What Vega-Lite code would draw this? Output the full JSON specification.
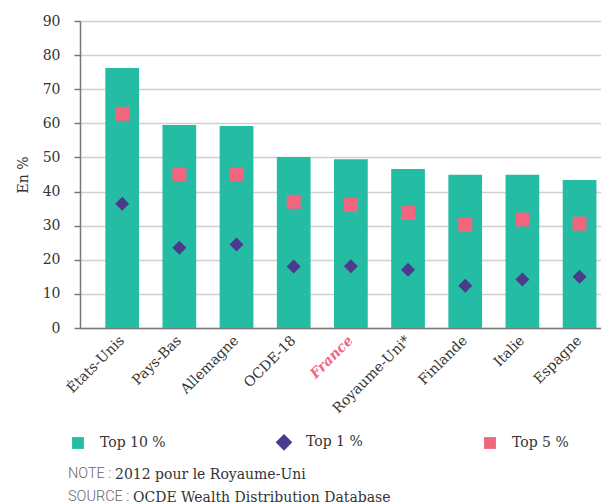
{
  "$schema": "https://vega.github.io/schema/vega-lite/v6.json",
  "padding": {"left": 16, "top": 14, "right": 0, "bottom": 0},
  "background": "white",
  "config": {
    "view": {"stroke": null},
    "font": "DejaVu Serif",
    "title": {"orient": "bottom", "anchor": "start", "frame": "group", "fontWeight": "normal"}
  },
  "resolve": {"legend": {"color": "independent", "shape": "independent"}},
  "title": {"text": "OCDE Wealth Distribution Database", "font": "DejaVu Serif", "fontSize": 14, "color": "#333333", "dx": 53, "dy": -17},
  "vconcat": [{
    "resolve": {"legend": {"color": "independent", "shape": "independent"}},
    "title": {"text": "2012 pour le Royaume-Uni", "font": "DejaVu Serif", "fontSize": 14, "color": "#333333", "dx": 35, "dy": -40},
    "vconcat": [{
      "title": {"text": ["NOTE :", "SOURCE :"], "font": "Roboto", "fontWeight": 300, "fontSize": 14.5, "color": "#666666", "lineHeight": 23, "dx": -12, "offset": 16},
      "width": 522,
      "height": 307,
      "data": {"values": [
        {"pays": "États-Unis", "serie": "Top 10 %", "valeur": 76.2},
        {"pays": "Pays-Bas", "serie": "Top 10 %", "valeur": 59.5},
        {"pays": "Allemagne", "serie": "Top 10 %", "valeur": 59.2},
        {"pays": "OCDE-18", "serie": "Top 10 %", "valeur": 50.1},
        {"pays": "France", "serie": "Top 10 %", "valeur": 49.5},
        {"pays": "Royaume-Uni*", "serie": "Top 10 %", "valeur": 46.6},
        {"pays": "Finlande", "serie": "Top 10 %", "valeur": 44.9},
        {"pays": "Italie", "serie": "Top 10 %", "valeur": 44.9},
        {"pays": "Espagne", "serie": "Top 10 %", "valeur": 43.4},
        {"pays": "États-Unis", "serie": "Top 1 %", "valeur": 36.4},
        {"pays": "Pays-Bas", "serie": "Top 1 %", "valeur": 23.5},
        {"pays": "Allemagne", "serie": "Top 1 %", "valeur": 24.5},
        {"pays": "OCDE-18", "serie": "Top 1 %", "valeur": 18.0},
        {"pays": "France", "serie": "Top 1 %", "valeur": 18.1},
        {"pays": "Royaume-Uni*", "serie": "Top 1 %", "valeur": 17.1},
        {"pays": "Finlande", "serie": "Top 1 %", "valeur": 12.4},
        {"pays": "Italie", "serie": "Top 1 %", "valeur": 14.2},
        {"pays": "Espagne", "serie": "Top 1 %", "valeur": 15.0},
        {"pays": "États-Unis", "serie": "Top 5 %", "valeur": 62.8},
        {"pays": "Pays-Bas", "serie": "Top 5 %", "valeur": 45.1},
        {"pays": "Allemagne", "serie": "Top 5 %", "valeur": 45.1},
        {"pays": "OCDE-18", "serie": "Top 5 %", "valeur": 37.0},
        {"pays": "France", "serie": "Top 5 %", "valeur": 36.1},
        {"pays": "Royaume-Uni*", "serie": "Top 5 %", "valeur": 33.7},
        {"pays": "Finlande", "serie": "Top 5 %", "valeur": 30.2},
        {"pays": "Italie", "serie": "Top 5 %", "valeur": 31.8},
        {"pays": "Espagne", "serie": "Top 5 %", "valeur": 30.6}
      ]},
      "encoding": {
        "x": {
          "field": "pays", "type": "nominal", "sort": null,
          "scale": {"paddingInner": 0.41, "paddingOuter": 0.27, "align": 0.82},
          "axis": {
            "title": null, "labelAngle": -45, "labelAlign": "right", "labelBaseline": "middle",
            "labelFont": "DejaVu Serif", "labelFontSize": 14, "labelPadding": 10,
            "labelColor": {"condition": {"test": "datum.value == 'France'", "value": "#F0667F"}, "value": "#333333"},
            "labelFontStyle": {"condition": {"test": "datum.value == 'France'", "value": "italic"}, "value": "normal"},
            "labelFontWeight": {"condition": {"test": "datum.value == 'France'", "value": "bold"}, "value": "normal"},
            "ticks": false, "domainColor": "#777777", "domainWidth": 1.5, "grid": false
          }
        },
        "y": {
          "field": "valeur", "type": "quantitative",
          "scale": {"domain": [0, 90], "nice": false},
          "axis": {
            "title": "En %", "titleFont": "DejaVu Serif", "titleFontSize": 14, "titleFontWeight": "normal", "titleColor": "#333333", "titlePadding": 12,
            "values": [0, 10, 20, 30, 40, 50, 60, 70, 80, 90],
            "labelFont": "DejaVu Serif", "labelFontSize": 14, "labelColor": "#333333", "labelPadding": 14,
            "domainColor": "#777777", "domainWidth": 1.5, "tickColor": "#777777", "tickSize": 6, "tickWidth": 1.5,
            "gridColor": "#d0d0d0", "gridWidth": 1.5
          }
        },
        "color": {
          "field": "serie", "type": "nominal",
          "scale": {"domain": ["Top 10 %", "Top 1 %", "Top 5 %"], "range": ["#25BCA4", "#4B3A8E", "#F0667F"]},
          "legend": {
            "title": null, "orient": "none", "legendX": -9, "legendY": 414, "direction": "horizontal",
            "columns": 3, "gridAlign": "all",
            "labelFont": "DejaVu Serif", "labelFontSize": 14, "labelColor": "#333333",
            "symbolSize": 140, "labelOffset": 15, "columnPadding": 109, "padding": 0
          }
        }
      },
      "layer": [
        {
          "transform": [{"filter": "datum.serie == 'Top 10 %'"}],
          "mark": {"type": "bar"}
        },
        {
          "transform": [{"filter": "datum.serie == 'Top 5 %'"}],
          "mark": {"type": "point", "filled": true, "opacity": 1, "size": 196},
          "encoding": {
            "shape": {
              "field": "serie", "type": "nominal",
              "scale": {"domain": ["Top 10 %", "Top 1 %", "Top 5 %"], "range": ["square", "M-1.4,0L0,-1.4L1.4,0L0,1.4Z", "square"]}
            }
          }
        },
        {
          "transform": [{"filter": "datum.serie == 'Top 1 %'"}],
          "mark": {"type": "point", "filled": true, "opacity": 1, "size": 100},
          "encoding": {
            "shape": {
              "field": "serie", "type": "nominal",
              "scale": {"domain": ["Top 10 %", "Top 1 %", "Top 5 %"], "range": ["square", "M-1.4,0L0,-1.4L1.4,0L0,1.4Z", "square"]}
            }
          }
        }
      ]
    }]
  }]
}
